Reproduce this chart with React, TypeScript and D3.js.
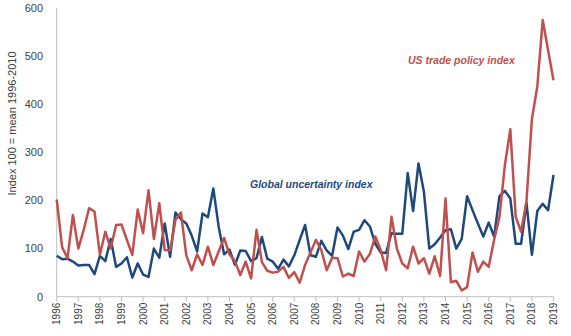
import React from "react";
import * as d3 from "d3";

// Quarterly observations, 1996Q1 .. 2019Q1
const startYear = 1996;
const years = d3.range(1996, 2020);
const yTicks = [0, 100, 200, 300, 400, 500, 600];

const globalUncertainty = [
  85, 78, 79, 73, 65, 66, 66, 47, 85, 74, 120, 62, 69, 82, 40, 69, 46, 41, 100, 81,
  152, 83, 175, 161, 152, 127, 94, 173, 165, 225, 145, 88, 98, 66, 96, 95, 74, 80, 124, 79,
  73, 58, 77, 63, 86, 118, 149, 86, 83, 116, 96, 85, 144, 127, 99, 135, 139, 159, 146, 110,
  92, 91, 132, 131, 131, 257, 178, 277, 218, 100, 109, 123, 138, 140, 100, 120, 209, 180, 152, 125,
  154, 125, 209, 220, 204, 110, 110, 195, 87, 178, 193, 180, 253,
];

const usTradePolicy = [
  202, 103, 80, 170, 100, 139, 184, 177, 87, 135, 100, 149, 150, 118, 87, 181, 132, 221, 120, 194,
  97, 96, 160, 175, 86, 55, 88, 66, 104, 66, 94, 122, 88, 74, 45, 73, 38, 139, 72, 54,
  50, 52, 62, 39, 51, 29, 66, 92, 118, 97, 55, 81, 80, 42, 48, 43, 94, 73, 89, 125,
  97, 55, 166, 100, 69, 59, 104, 69, 80, 48, 84, 43, 204, 30, 33, 13, 20, 92, 52, 73,
  62, 118, 166, 274, 348, 166, 135, 199, 369, 437, 575, 512, 450,
];

const yAxisTitle = "Index 100 = mean 1996-2010";
const blueLabel = "Global uncertainty index";
const redLabel = "US trade policy index";

const W = 571;
const H = 336;
const BLUE = "#1f497d";
const RED = "#c0504d";
const AXIS = "#bfbfbf";
const TEXT = "#404040";

export default function App() {
  const n = globalUncertainty.length;
  const x = d3.scaleLinear().domain([0, n - 1]).range([56.7, 553.5]);
  const y = d3.scaleLinear().domain([0, 600]).range([296.7, 8]);
  const line = d3
    .line<number>()
    .x((_, i) => x(i))
    .y((d) => y(d));

  return (
    <svg
      width={W}
      height={H}
      style={{ position: "absolute", left: 0, top: 0, background: "#fff" }}
      fontFamily="'Liberation Sans', Arial, sans-serif"
    >
      {/* axes */}
      <line x1={x(0)} x2={x(0)} y1={y(600)} y2={y(0)} stroke={AXIS} strokeWidth={1} />
      <line x1={x(0)} x2={x(n - 1)} y1={y(0)} y2={y(0)} stroke={AXIS} strokeWidth={1} />
      {yTicks.map((t) => (
        <text
          key={t}
          x={43}
          y={y(t)}
          dy="0.35em"
          textAnchor="end"
          fontSize={11}
          fill={TEXT}
        >
          {t}
        </text>
      ))}
      {years.map((yr) => {
        const xi = x((yr - startYear) * 4);
        return (
          <g key={yr}>
            <line x1={xi} x2={xi} y1={y(0)} y2={y(0) + 5} stroke={AXIS} strokeWidth={1} />
            <text
              transform={`translate(${xi},${y(0) + 6}) rotate(-90)`}
              textAnchor="end"
              dy="0.35em"
              fontSize={10}
              fill={TEXT}
            >
              {yr}
            </text>
          </g>
        );
      })}
      <text
        transform={`translate(12,123.5) rotate(-90)`}
        textAnchor="middle"
        dy="0.35em"
        fontSize={11}
        fill={TEXT}
      >
        {yAxisTitle}
      </text>

      {/* series */}
      <path d={line(globalUncertainty) || ""} fill="none" stroke={BLUE} strokeWidth={2.5} strokeLinejoin="round" />
      <path d={line(usTradePolicy) || ""} fill="none" stroke={RED} strokeWidth={2.5} strokeLinejoin="round" />

      {/* annotations */}
      <text x={250} y={184} dy="0.35em" fontSize={10.5} fontWeight="bold" fontStyle="italic" fill={BLUE}>
        {blueLabel}
      </text>
      <text x={408} y={60} dy="0.35em" fontSize={10.5} fontWeight="bold" fontStyle="italic" fill={RED}>
        {redLabel}
      </text>
    </svg>
  );
}
